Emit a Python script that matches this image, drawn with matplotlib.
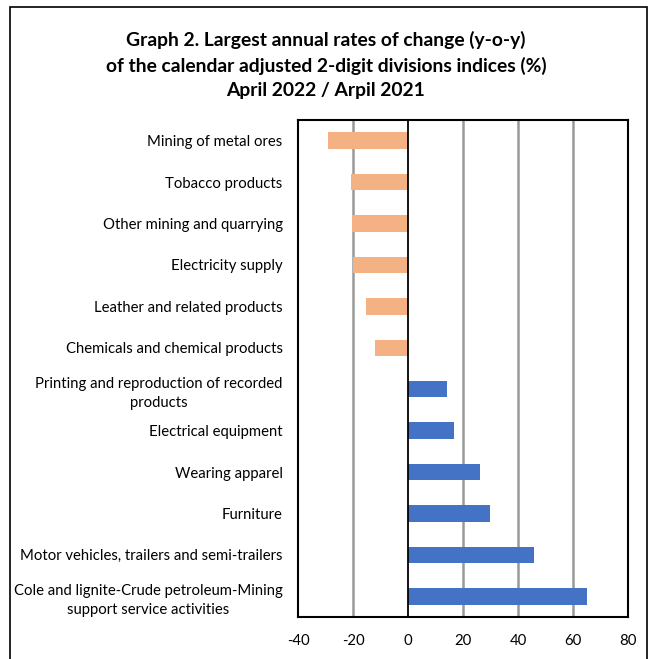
import matplotlib.pyplot as plt
from matplotlib.patches import Rectangle

# categories, top to bottom
categories = [
    'Mining of metal ores',
    'Tobacco products',
    'Other mining and quarrying',
    'Electricity supply',
    'Leather and related products',
    'Chemicals and chemical products',
    'Printing and reproduction of recorded\nproducts',
    'Electrical equipment',
    'Wearing apparel',
    'Furniture',
    'Motor vehicles, trailers and semi-trailers',
    'Cole and lignite-Crude petroleum-Mining\nsupport service activities',
]
values = [-29.0, -20.7, -20.2, -19.9, -15.4, -12.0,
          14.0, 16.8, 26.2, 29.8, 45.9, 65.2]
xticks = [-40, -20, 0, 20, 40, 60, 80]

plt.rcParams['font.family'] = ['Lato', 'DejaVu Sans']

fig = plt.figure(figsize=(6.52, 6.59), dpi=100)
ax = fig.add_axes([298 / 652, 1 - 617 / 659, 330 / 652, 497 / 659])

colors = ['#F4B183' if v < 0 else '#4472C4' for v in values]
pos = list(range(len(categories)))
ax.barh(pos, values, height=0.4, color=colors, zorder=3)
ax.set_ylim(len(categories) - 0.5, -0.5)
ax.set_xlim(-40, 80)
ax.set_xticks(xticks)
ax.set_xticklabels([str(t) for t in xticks])
ax.set_yticks(pos)
ax.set_yticklabels(categories, multialignment='center', linespacing=1.45)
ax.tick_params(axis='both', length=0, labelsize=10.7)
ax.tick_params(axis='y', pad=11)
ax.tick_params(axis='x', pad=12)

for t in xticks[1:-1]:
    if t == 0:
        ax.axvline(0, color='black', lw=1.3, zorder=4)
    else:
        ax.axvline(t, color='#999999', lw=1.8, zorder=1)

for s in ax.spines.values():
    s.set_color('black')
    s.set_linewidth(1.5)

fig.text(0.5, 1 - 65 / 659,
         'Graph 2. Largest annual rates of change (y-o-y)\n'
         'of the calendar adjusted 2-digit divisions indices (%)\n'
         'April 2022 / Arpil 2021',
         ha='center', va='center', fontsize=13.9, fontweight='bold',
         linespacing=1.5)

# outer frame, open at the bottom edge
fig.patches.append(Rectangle((10 / 652, -0.05), 637 / 652, 1.05 - 7 / 659,
                             transform=fig.transFigure, fill=False,
                             edgecolor='black', lw=1.2))

fig.savefig('out.png', dpi=100)
